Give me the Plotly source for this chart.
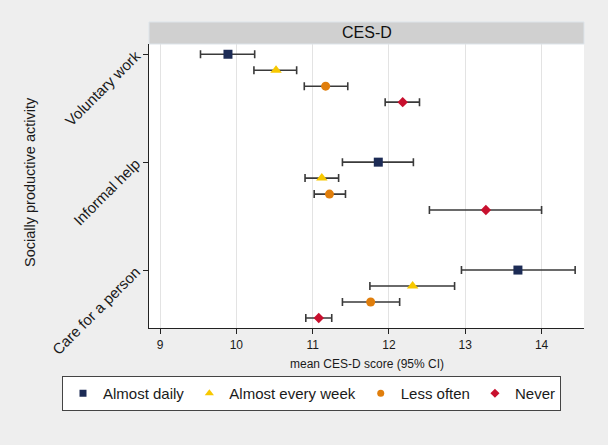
import plotly.graph_objects as go

# ---- data ----
activities = ["Voluntary work", "Informal help", "Care for a person"]
series_names = ["Almost daily", "Almost every week", "Less often", "Never"]

mean_daily = [9.89, 11.86, 13.69]
lo_daily = [9.53, 11.39, 12.95]
hi_daily = [10.24, 12.32, 14.44]

mean_week = [10.52, 11.12, 12.31]
lo_week = [10.23, 10.90, 11.75]
hi_week = [10.79, 11.34, 12.86]

mean_less = [11.17, 11.22, 11.76]
lo_less = [10.89, 11.02, 11.39]
hi_less = [11.46, 11.43, 12.14]

mean_never = [12.18, 13.27, 11.08]
lo_never = [11.95, 12.53, 10.91]
hi_never = [12.40, 14.00, 11.25]

x_ticks = [9, 10, 11, 12, 13, 14]

# ---- styling ----
colors = ["#1c2b55", "#f7c800", "#e07e0c", "#c8102e"]
symbols = ["square", "triangle-up", "circle", "diamond"]
sizes = [9, 10, 9, 8]
legend_sizes = [7, 8, 7, 7]
offset = 0.148

means = [mean_daily, mean_week, mean_less, mean_never]
los = [lo_daily, lo_week, lo_less, lo_never]
his = [hi_daily, hi_week, hi_less, hi_never]

fig = go.Figure()
for k, name in enumerate(series_names):
    m = means[k]
    ys = [g + k * offset for g in range(len(activities))]
    fig.add_trace(go.Scatter(
        x=m, y=ys, mode="markers", name=name, showlegend=False,
        marker=dict(symbol=symbols[k], color=colors[k], size=sizes[k]),
        error_x=dict(type="data", symmetric=False,
                     array=[h - v for h, v in zip(his[k], m)],
                     arrayminus=[v - l for v, l in zip(m, los[k])],
                     color="#3a3a3a", thickness=1.6, width=4),
    ))
for k, name in enumerate(series_names):
    fig.add_trace(go.Scatter(
        x=[None], y=[None], mode="markers", name=name, showlegend=True,
        marker=dict(symbol=symbols[k], color=colors[k], size=legend_sizes[k]),
    ))

font = "Liberation Sans, Arial, sans-serif"
L, R, T, B = 149, 24, 44, 117
pw = 608 - L - R
ph = 445 - T - B
fig.update_layout(
    width=608, height=445,
    margin=dict(l=L, r=R, t=T, b=B),
    paper_bgcolor="#eeeeee", plot_bgcolor="white",
    font=dict(family=font, color="#1a1a1a"),
    showlegend=True,
    legend=dict(orientation="h", x=(62 - L) / pw, xanchor="left", y=-(376 - 328) / ph, yanchor="top",
                bgcolor="white", bordercolor="#444", borderwidth=1,
                font=dict(size=15, family=font), itemwidth=30, tracegroupgap=0),
    xaxis=dict(range=[8.855, 14.556], tickvals=x_ticks, showgrid=True,
               gridcolor="#e3e3e3", gridwidth=1, zeroline=False, automargin=False,
               showline=True, linecolor="#222", linewidth=1.2,
               ticks="outside", ticklen=5, tickcolor="#222",
               tickfont=dict(size=12)),
    yaxis=dict(range=[2.537, -0.095], tickvals=list(range(len(activities))),
               ticktext=activities, tickangle=-45, showgrid=False, zeroline=False,
               automargin=False, ticklabelstandoff=4,
               showline=True, linecolor="#222", linewidth=1.2,
               ticks="outside", ticklen=5, tickcolor="#222",
               tickfont=dict(size=15)),
)

fig.add_annotation(text="mean CES-D score (95% CI)", xref="paper", yref="paper",
                   x=0.5, y=-(364 - 328) / ph, showarrow=False, font=dict(size=12),
                   xanchor="center", yanchor="middle")
fig.add_annotation(text="Socially productive activity", xref="paper", yref="paper",
                   x=(30 - L) / pw, y=(328 - 182) / ph, showarrow=False, font=dict(size=14.5),
                   textangle=-90, xanchor="center", yanchor="middle")

fig.add_shape(type="rect", xref="paper", yref="paper", x0=0, x1=1, y0=1.0, y1=1 + 22 / ph,
              fillcolor="#d0d0d0", line=dict(color="#dde4ea", width=1))
fig.add_annotation(text="CES-D", xref="paper", yref="paper", x=0.5, y=1 + 11 / ph,
                   showarrow=False, font=dict(size=16, color="#111"), xanchor="center", yanchor="middle")

fig.write_html("out.html", config={"displayModeBar": False},
               post_script="document.body.style.margin='0';document.body.style.background='#eeeeee';")
